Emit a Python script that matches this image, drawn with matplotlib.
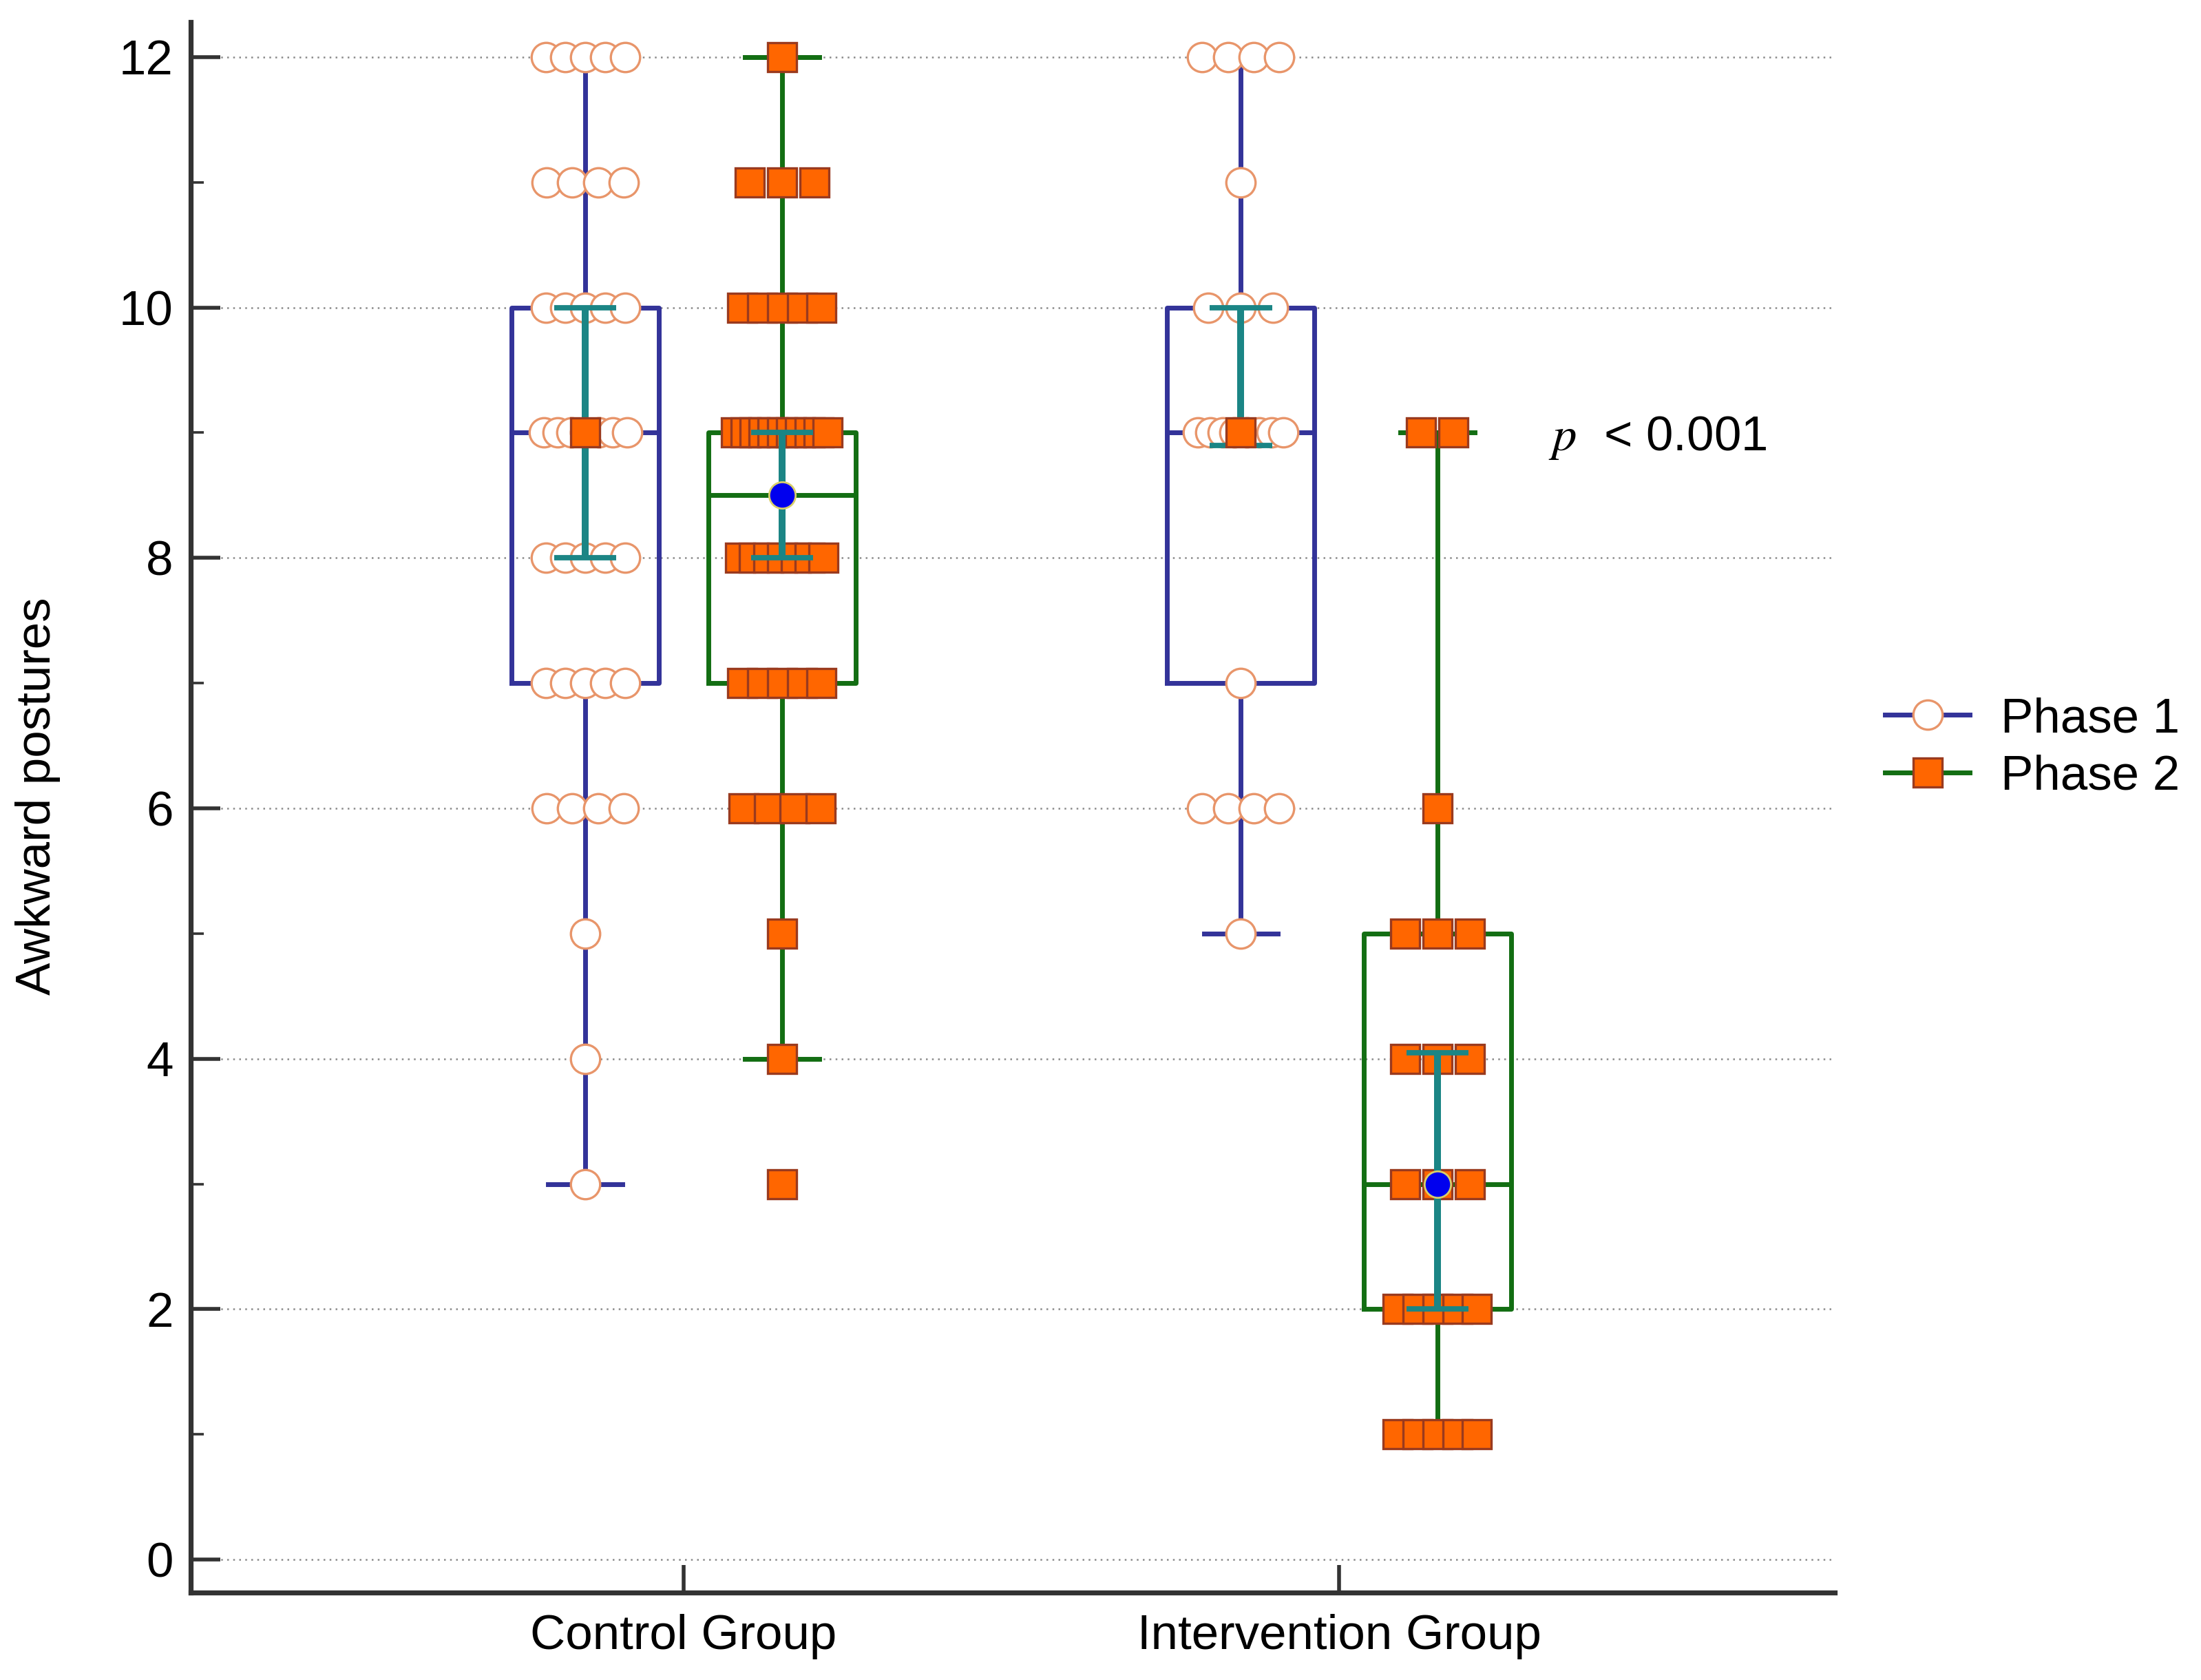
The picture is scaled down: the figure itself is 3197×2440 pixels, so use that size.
import numpy as np
import matplotlib
matplotlib.use("Agg")
import matplotlib.pyplot as plt
from matplotlib.lines import Line2D
from matplotlib.ticker import MultipleLocator

plt.rcParams['font.family'] = ['Liberation Sans', 'DejaVu Sans']
plt.rcParams['mathtext.fontset'] = 'stix'

# ---------------- data ----------------
groups = ["Control Group", "Intervention Group"]
phases = ["Phase 1", "Phase 2"]

# observed scores: value and number of subjects with that value
ctrl_p1_values = [12, 11, 10, 9, 8, 7, 6, 5, 4, 3]
ctrl_p1_counts = [5, 4, 5, 7, 5, 5, 4, 1, 1, 1]
ctrl_p2_values = [12, 11, 10, 9, 8, 7, 6, 5, 4, 3]
ctrl_p2_counts = [1, 3, 5, 11, 7, 5, 4, 1, 1, 1]
int_p1_values = [12, 11, 10, 9, 7, 6, 5]
int_p1_counts = [4, 1, 3, 8, 1, 4, 1]
int_p2_values = [9, 6, 5, 4, 3, 2, 1]
int_p2_counts = [2, 1, 3, 3, 3, 5, 5]

# box statistics; order: Control P1, Control P2, Intervention P1, Intervention P2
q1 = [7, 7, 7, 2]
median = [9, 8.5, 9, 3]
q3 = [10, 9, 10, 5]
whisker_low = [3, 4, 5, 1]
whisker_high = [12, 12, 12, 9]
ci_low = [8, 8, 8.9, 2]
ci_high = [10, 9, 10, 4.05]

y_ticks = [0, 2, 4, 6, 8, 10, 12]
p_text = r"$p$  < 0.001"

# ---------------- style ----------------
C_P1 = "#333399"
C_P2 = "#136e13"
C_TEAL = "#1b8585"
C_ORANGE = "#ff6600"
C_ORANGE_EDGE = "#9a3a1e"
C_CIRCLE_EDGE = "#e8956a"
C_SPINE = "#333333"
FS = 25.5
MS = 15.3
LW = 2.5

fig = plt.figure(figsize=(15.985, 12.2), dpi=200)
ax = fig.add_axes([0.0866, 0.052, 0.747, 0.9349])

group_pos = np.array([1.0, 2.0])
offset = 0.15
positions = [group_pos[0] - offset, group_pos[0] + offset,
             group_pos[1] - offset, group_pos[1] + offset]
box_colors = [C_P1, C_P2, C_P1, C_P2]

# boxes via bxp
stats = [dict(med=median[i], q1=q1[i], q3=q3[i], whislo=whisker_low[i],
              whishi=whisker_high[i], fliers=[]) for i in range(4)]
for idx in ([0, 2], [1, 3]):
    col = box_colors[idx[0]]
    ax.bxp([stats[i] for i in idx], positions=[positions[i] for i in idx],
           widths=0.225, capwidths=0.113, showfliers=False, patch_artist=False,
           boxprops=dict(color=col, linewidth=LW),
           whiskerprops=dict(color=col, linewidth=LW),
           capprops=dict(color=col, linewidth=LW),
           medianprops=dict(color=col, linewidth=LW),
           manage_ticks=False, zorder=2)


def spread(pos, values, counts):
    xs, ys = [], []
    for v, n in zip(values, counts):
        span = min(0.0494 * (n - 1), 0.105 + 0.00315 * n)
        xs.extend(pos + np.linspace(-span / 2, span / 2, n) if n > 1 else [pos])
        ys.extend([v] * n)
    return np.array(xs), np.array(ys)


series = [(ctrl_p1_values, ctrl_p1_counts, 0),
          (ctrl_p2_values, ctrl_p2_counts, 1),
          (int_p1_values, int_p1_counts, 2),
          (int_p2_values, int_p2_counts, 3)]
for vals, cnts, i in series:
    xs, ys = spread(positions[i], vals, cnts)
    if i % 2 == 0:
        ax.plot(xs, ys, ls='none', marker='o', ms=MS, mfc='white',
                mec=C_CIRCLE_EDGE, mew=1.2, zorder=3)
    else:
        ax.plot(xs, ys, ls='none', marker='s', ms=MS, mfc=C_ORANGE,
                mec=C_ORANGE_EDGE, mew=1.2, zorder=3)

# confidence interval bars for median
ax.vlines(positions, ci_low, ci_high, colors=C_TEAL, linewidth=3.6, zorder=4)
for lo_hi in (ci_low, ci_high):
    ax.hlines(lo_hi, np.array(positions) - 0.0475, np.array(positions) + 0.0475,
              colors=C_TEAL, linewidth=2.8, zorder=4)

# median markers
for i in range(4):
    if i % 2 == 0:
        ax.plot(positions[i], median[i], ls='none', marker='s', ms=MS,
                mfc=C_ORANGE, mec=C_ORANGE_EDGE, mew=1.2, zorder=5)
    else:
        ax.plot(positions[i], median[i], ls='none', marker='o', ms=13.8,
                mfc='#0000ee', mec='#d8cf6a', mew=1.0, zorder=5)

# axes styling
ax.set_xlim(0.248, 2.756)
ax.set_ylim(-0.264, 12.28)
ax.set_xticks(group_pos)
ax.set_xticklabels(groups, fontsize=FS)
ax.set_yticks(y_ticks)
ax.set_yticklabels([str(t) for t in y_ticks], fontsize=FS)
ax.yaxis.set_minor_locator(MultipleLocator(1))
ax.tick_params(axis='y', which='major', direction='in', length=15.5,
               width=2.0, color=C_SPINE, pad=9)
ax.tick_params(axis='y', which='minor', direction='in', length=7,
               width=1.3, color=C_SPINE)
ax.tick_params(axis='x', which='major', direction='in', length=14.4,
               width=2.0, color=C_SPINE, pad=11)
for s in ('top', 'right'):
    ax.spines[s].set_visible(False)
for s in ('left', 'bottom'):
    ax.spines[s].set_linewidth(2.6)
    ax.spines[s].set_color(C_SPINE)
ax.grid(axis='y', which='major', linestyle=(0, (1, 2.5)), color='#8a8a8a',
        linewidth=0.9, zorder=0)
ax.set_axisbelow(True)

ax.set_ylabel("Awkward postures", fontsize=FS, va='center')
ax.yaxis.set_label_coords(-0.093, 0.507)

ax.text(2.319, 8.857, p_text, fontsize=FS, ha='left', va='baseline')

handles = [Line2D([], [], color=C_P1, lw=LW, marker='o', ms=MS, mfc='white',
                  mec=C_CIRCLE_EDGE, mew=1.2),
           Line2D([], [], color=C_P2, lw=LW, marker='s', ms=MS, mfc=C_ORANGE,
                  mec=C_ORANGE_EDGE, mew=1.2)]
fig.legend(handles, phases, loc='center left', bbox_to_anchor=(0.8565, 0.5545),
           frameon=False, fontsize=FS, handlelength=1.73, handletextpad=0.64,
           labelspacing=0.25, borderpad=0, borderaxespad=0)

fig.savefig("out.png", dpi=200, facecolor='white')
